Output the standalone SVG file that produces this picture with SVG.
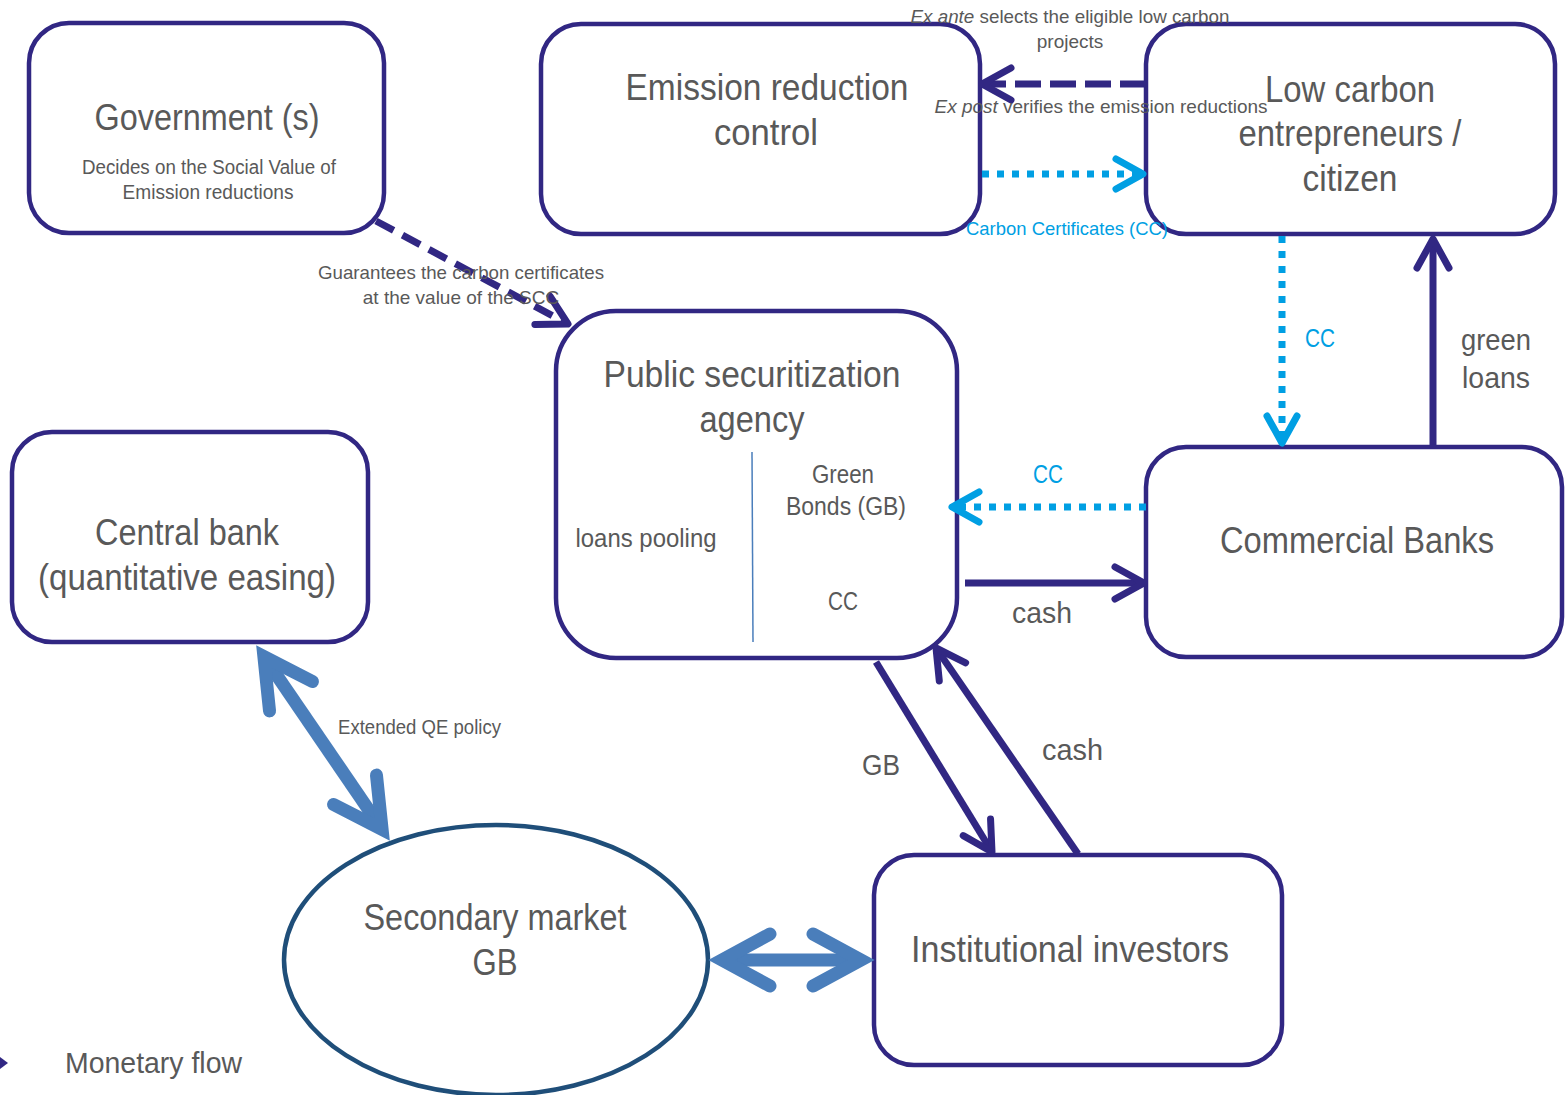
<svg xmlns="http://www.w3.org/2000/svg" width="1566" height="1095" viewBox="0 0 1566 1095">
<defs>
<style>
.box{fill:#fff;stroke:#312783;stroke-width:4.5}
.t{font-family:"Liberation Sans Narrow","Arial Narrow","Liberation Sans",sans-serif;fill:#595959;text-anchor:middle}
.big{font-size:36px}
.mid{font-size:30px}
.sm{font-size:20px}
.cy{fill:#009FE3}
.pl{fill:none;stroke:#312783;stroke-width:7}
.dash1{stroke-dasharray:26 9}
.dash2{stroke-dasharray:20 10}
.dot{fill:none;stroke:#009FE3;stroke-width:7;stroke-dasharray:7 8}
.bl{fill:none;stroke:#4A7EBB;stroke-width:13}
</style>
<marker id="ap" viewBox="-36 -20 40 40" refX="-2" refY="0" markerWidth="40" markerHeight="40" markerUnits="userSpaceOnUse" orient="auto">
<path d="M-31,-16 L-2,0 L-31,16" fill="none" stroke="#312783" stroke-width="7" stroke-linecap="round" stroke-linejoin="round"/>
</marker>
<marker id="ac" viewBox="-36 -20 40 40" refX="-2" refY="0" markerWidth="40" markerHeight="40" markerUnits="userSpaceOnUse" orient="auto">
<path d="M-29,-15 L-2,0 L-29,15" fill="none" stroke="#009FE3" stroke-width="7" stroke-linecap="round" stroke-linejoin="round"/>
</marker>
<marker id="ab" viewBox="-50 -34 80 68" refX="0" refY="0" markerWidth="80" markerHeight="68" markerUnits="userSpaceOnUse" orient="auto-start-reverse">
<path d="M-40,-26 L8,0 L-40,26" fill="none" stroke="#4A7EBB" stroke-width="13" stroke-linecap="round" stroke-linejoin="miter"/>
</marker>
</defs>

<g id="gov">
<rect class="box" x="29" y="23" width="355" height="210" rx="40"/>
<text class="t big" x="207" y="130" textLength="225" lengthAdjust="spacingAndGlyphs">Government (s)</text>
<text class="t sm" x="209" y="174" textLength="254" lengthAdjust="spacingAndGlyphs">Decides on the Social Value of</text>
<text class="t sm" x="208" y="199" textLength="171" lengthAdjust="spacingAndGlyphs">Emission reductions</text>
</g>

<g id="erc">
<rect class="box" x="541" y="24" width="439" height="210" rx="40"/>
<text class="t big" x="767" y="100" textLength="283" lengthAdjust="spacingAndGlyphs">Emission reduction</text>
<text class="t big" x="766" y="145" textLength="104" lengthAdjust="spacingAndGlyphs">control</text>
</g>

<g id="lce">
<rect class="box" x="1146" y="24" width="409" height="210" rx="40"/>
<text class="t big" x="1350" y="102" textLength="170" lengthAdjust="spacingAndGlyphs">Low carbon</text>
<text class="t big" x="1350" y="146" textLength="223" lengthAdjust="spacingAndGlyphs">entrepreneurs /</text>
<text class="t big" x="1350" y="191" textLength="95" lengthAdjust="spacingAndGlyphs">citizen</text>
</g>

<g id="psa">
<rect class="box" x="556" y="311" width="401" height="347" rx="60"/>
<text class="t big" x="752" y="387" textLength="297" lengthAdjust="spacingAndGlyphs">Public securitization</text>
<text class="t big" x="752" y="432" textLength="105" lengthAdjust="spacingAndGlyphs">agency</text>
<line x1="752" y1="452" x2="753" y2="642" stroke="#4A7EBB" stroke-width="1.5"/>
<text class="t" style="font-size:25px" x="646" y="547" textLength="141" lengthAdjust="spacingAndGlyphs">loans pooling</text>
<text class="t" style="font-size:25px" x="843" y="483" textLength="62" lengthAdjust="spacingAndGlyphs">Green</text>
<text class="t" style="font-size:25px" x="846" y="515" textLength="120" lengthAdjust="spacingAndGlyphs">Bonds (GB)</text>
<text class="t" style="font-size:25px" x="843" y="610" textLength="30" lengthAdjust="spacingAndGlyphs">CC</text>
</g>

<g id="cb">
<rect class="box" x="12" y="432" width="356" height="210" rx="40"/>
<text class="t big" x="187" y="545" textLength="184" lengthAdjust="spacingAndGlyphs">Central bank</text>
<text class="t big" x="187" y="590" textLength="298" lengthAdjust="spacingAndGlyphs">(quantitative easing)</text>
</g>

<g id="comb">
<rect class="box" x="1146" y="447" width="416" height="210" rx="40"/>
<text class="t big" x="1357" y="553" textLength="274" lengthAdjust="spacingAndGlyphs">Commercial Banks</text>
</g>

<g id="inv">
<rect class="box" x="874" y="855" width="408" height="210" rx="40"/>
<text class="t big" x="1070" y="962" textLength="318" lengthAdjust="spacingAndGlyphs">Institutional investors</text>
</g>

<g id="sm">
<ellipse cx="496" cy="960" rx="212" ry="135" fill="#fff" stroke="#1F4E79" stroke-width="4.5"/>
<text class="t big" x="495" y="930" textLength="263" lengthAdjust="spacingAndGlyphs">Secondary market</text>
<text class="t big" x="495" y="975" textLength="45" lengthAdjust="spacingAndGlyphs">GB</text>
</g>

<g id="connectors">
<path class="pl dash1" d="M1146,84 L982,84" marker-end="url(#ap)"/>
<path class="dot" d="M982,174 L1143,174" marker-end="url(#ac)"/>
<path class="pl dash2" d="M376,221 L568,324" marker-end="url(#ap)"/>
<path class="dot" d="M1282,236 L1282,443" marker-end="url(#ac)"/>
<path class="pl" d="M1433,447 L1433,239" marker-end="url(#ap)"/>
<path class="dot" d="M1146,507 L952,507" marker-end="url(#ac)"/>
<path class="pl" d="M965,583 L1144,583" marker-end="url(#ap)"/>
<path class="pl" d="M876,662 L992,852" marker-end="url(#ap)"/>
<path class="pl" d="M1078,854 L936,648" marker-end="url(#ap)"/>
<path class="bl" d="M268.4,663.2 L377.6,822.8" marker-start="url(#ab)" marker-end="url(#ab)"/>
<path class="bl" d="M730,960 L853,960" marker-start="url(#ab)" marker-end="url(#ab)"/>
</g>

<g id="labels">
<text class="t" style="font-size:19px" x="1070" y="23" textLength="319" lengthAdjust="spacingAndGlyphs"><tspan font-style="italic">Ex ante</tspan> selects the eligible low carbon</text>
<text class="t" style="font-size:19px" x="1070" y="48">projects</text>
<text class="t" style="font-size:19px" x="1101" y="113" textLength="333" lengthAdjust="spacingAndGlyphs"><tspan font-style="italic">Ex post</tspan> verifies the emission reductions</text>
<text class="t cy" style="font-size:19px;text-anchor:start" x="966" y="235" textLength="202" lengthAdjust="spacingAndGlyphs">Carbon Certificates (CC)</text>
<text class="t" style="font-size:19px" x="461" y="279" textLength="286" lengthAdjust="spacingAndGlyphs">Guarantees the carbon certificates</text>
<text class="t" style="font-size:19px" x="461" y="304">at the value of the SCC</text>
<text class="t cy" style="font-size:25px;text-anchor:start" x="1305" y="347" textLength="30" lengthAdjust="spacingAndGlyphs">CC</text>
<text class="t mid" style="text-anchor:start" x="1461" y="350" textLength="70" lengthAdjust="spacingAndGlyphs">green</text>
<text class="t mid" style="text-anchor:start" x="1462" y="388" textLength="68" lengthAdjust="spacingAndGlyphs">loans</text>
<text class="t cy" style="font-size:25px" x="1048" y="483" textLength="30" lengthAdjust="spacingAndGlyphs">CC</text>
<text class="t mid" style="text-anchor:start" x="1012" y="623" textLength="60" lengthAdjust="spacingAndGlyphs">cash</text>
<text class="t mid" style="text-anchor:start" x="862" y="775" textLength="38" lengthAdjust="spacingAndGlyphs">GB</text>
<text class="t mid" style="text-anchor:start" x="1042" y="760" textLength="61" lengthAdjust="spacingAndGlyphs">cash</text>
<text class="t sm" style="text-anchor:start" x="338" y="734" textLength="163" lengthAdjust="spacingAndGlyphs">Extended QE policy</text>
<text class="t mid" style="text-anchor:start" x="65" y="1073" textLength="177" lengthAdjust="spacingAndGlyphs">Monetary flow</text>
</g>
<path d="M0,1057 L8,1063 L0,1069 Z" fill="#312783"/>
</svg>
